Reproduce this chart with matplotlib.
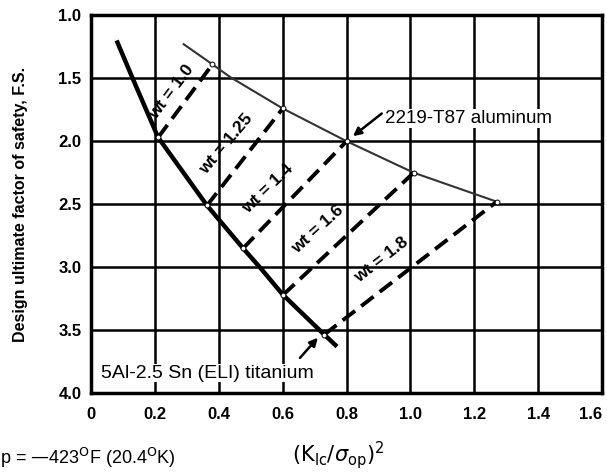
import numpy as np
import matplotlib
matplotlib.use("Agg")
import matplotlib.pyplot as plt

plt.rcParams['font.family'] = ['Liberation Sans', 'DejaVu Sans']

# titanium curve (5Al-2.5 Sn ELI)
ti_x = [0.08, 0.13, 0.21, 0.363, 0.476, 0.535, 0.601, 0.73, 0.77]
ti_y = [1.20, 1.50, 1.97, 2.51, 2.85, 3.02, 3.22, 3.535, 3.63]

# aluminum curve (2219-T87)
al_x = [0.29, 0.38, 0.435, 0.60, 0.80, 1.01, 1.27]
al_y = [1.23, 1.39, 1.49, 1.74, 2.00, 2.25, 2.48]

# constant weight lines, titanium end -> aluminum end
wt_labels = ["wt = 1.0", "wt = 1.25", "wt = 1.4", "wt = 1.6", "wt = 1.8"]
wt_ti_x = [0.21, 0.363, 0.476, 0.601, 0.73]
wt_ti_y = [1.97, 2.51, 2.85, 3.22, 3.535]
wt_al_x = [0.38, 0.60, 0.80, 1.01, 1.27]
wt_al_y = [1.39, 1.74, 2.00, 2.25, 2.48]
wt_text_x = [0.252, 0.423, 0.553, 0.71, 0.908]
wt_text_y = [1.61, 2.02, 2.38, 2.70, 2.94]
wt_angle = [53, 50, 44, 42, 38]

xticks = [0, 0.2, 0.4, 0.6, 0.8, 1.0, 1.2, 1.4, 1.6]
xtick_labels = ["0", "0.2", "0.4", "0.6", "0.8", "1.0", "1.2", "1.4", "1.6"]
yticks = [1.0, 1.5, 2.0, 2.5, 3.0, 3.5, 4.0]
ytick_labels = ["1.0", "1.5", "2.0", "2.5", "3.0", "3.5", "4.0"]

fig = plt.figure(figsize=(6.07, 4.76), dpi=100)
ax = fig.add_axes([0.150, 0.174, 0.842, 0.794])

ax.set_xlim(0, 1.6)
ax.set_ylim(4.0, 1.0)
ax.set_xticks(xticks)
ax.set_xticklabels(xtick_labels, fontsize=12, fontweight='bold')
ax.get_xticklabels()[-1].set_ha('right')
ax.set_yticks(yticks)
ax.set_yticklabels(ytick_labels, fontsize=12, fontweight='bold')
ax.tick_params(axis='x', length=0, pad=10)
ax.tick_params(axis='y', length=0, pad=7)
ax.grid(True, color='black', linewidth=1.8)
ax.set_axisbelow(True)
for s in ax.spines.values():
    s.set_linewidth(2.5)

# curves
ax.plot(ti_x, ti_y, color='black', linewidth=3.2, solid_capstyle='butt', zorder=3)
ax.plot(al_x, al_y, color='#333333', linewidth=1.5, zorder=3)

# weight lines
for i in range(len(wt_labels)):
    ax.plot([wt_ti_x[i], wt_al_x[i]], [wt_ti_y[i], wt_al_y[i]],
            color='black', linewidth=2.8, dashes=(4, 2), zorder=4)
    ax.text(wt_text_x[i], wt_text_y[i], wt_labels[i], rotation=wt_angle[i],
            rotation_mode='anchor', ha='center', va='center',
            fontsize=12.5, fontweight='bold', zorder=5)

ax.plot(wt_ti_x, wt_ti_y, linestyle='none', marker='o', markersize=3.5,
        markerfacecolor='white', markeredgecolor='black', markeredgewidth=0.7, zorder=6)
ax.plot(wt_al_x, wt_al_y, linestyle='none', marker='o', markersize=3.5,
        markerfacecolor='white', markeredgecolor='black', markeredgewidth=0.7, zorder=6)

# material labels
arrow = dict(arrowstyle='-|>', color='black', lw=1.8, shrinkA=0, shrinkB=0,
             mutation_scale=12)
ax.text(0.92, 1.82, "2219-T87 aluminum", fontsize=13.5, va='center', ha='left',
        bbox=dict(facecolor='white', edgecolor='none', pad=0.5), zorder=5)
ax.annotate("", xy=(0.82, 1.96), xytext=(0.91, 1.78), arrowprops=arrow, zorder=6)
ax.text(0.03, 3.84, "5Al-2.5 Sn (ELI) titanium", fontsize=14, va='center', ha='left',
        bbox=dict(facecolor='white', edgecolor='none', pad=0.5), zorder=5)
ax.annotate("", xy=(0.71, 3.56), xytext=(0.654, 3.72), arrowprops=arrow, zorder=6)

fig.text(0.033, 0.57, "Design ultimate factor of safety, F.S.", rotation=90,
         ha='center', va='center', fontsize=11.5, fontweight='bold')
fig.text(0.0, 0.038, "p = \u2014423$^{\\rm O}$F (20.4$^{\\rm O}$K)", ha='left',
         va='center', fontsize=13)
fig.text(0.557, 0.045, "$(\\mathrm{K_{Ic}}/\\sigma_{\\mathrm{op}})^2$", ha='center',
         va='center', fontsize=15)

fig.savefig("out.png", dpi=100)
